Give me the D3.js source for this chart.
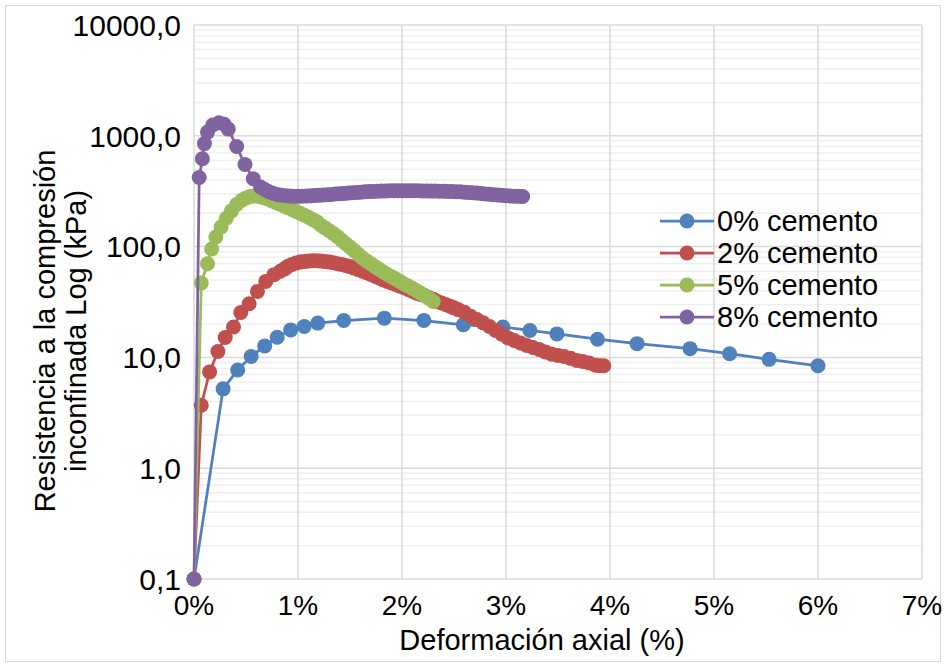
<!DOCTYPE html>
<html>
<head>
<meta charset="utf-8">
<script src="https://cdn.jsdelivr.net/npm/d3@7"></script>
<style>
  body { margin: 0; background: #fff; }
  text { font-family: "Liberation Sans", Arial, sans-serif; fill: #000; }
</style>
</head>
<body>
<div id="chart"></div>
<script>
const width = 946;
const height = 667;

// deformación axial (%) y resistencia (kPa) por serie
const strain0 = [0, 0.28, 0.42, 0.55, 0.68, 0.80, 0.93, 1.06, 1.19, 1.44, 1.83, 2.21, 2.59, 2.97, 3.23, 3.49, 3.88, 4.26, 4.77, 5.15, 5.53, 6.0];
const stress0 = [0.1, 5.2, 7.7, 10.2, 12.7, 15.2, 17.7, 19.0, 20.4, 21.5, 22.6, 21.5, 19.7, 18.8, 17.5, 16.3, 14.6, 13.3, 12.0, 10.8, 9.6, 8.4];

const strain2 = [0, 0.07, 0.15, 0.23, 0.30, 0.38, 0.45, 0.53, 0.61, 0.69, 0.77, 0.83, 0.87, 0.90, 0.94, 0.98, 1.02, 1.06, 1.10, 1.14, 1.18, 1.22, 1.26, 1.30, 1.34, 1.38, 1.42, 1.46, 1.50, 1.54, 1.58, 1.62, 1.66, 1.70, 1.74, 1.78, 1.82, 1.86, 1.90, 1.94, 1.98, 2.02, 2.06, 2.10, 2.14, 2.18, 2.22, 2.26, 2.30, 2.34, 2.38, 2.42, 2.46, 2.50, 2.54, 2.60, 2.66, 2.72, 2.78, 2.84, 2.90, 2.96, 3.02, 3.08, 3.14, 3.20, 3.26, 3.32, 3.38, 3.44, 3.50, 3.56, 3.62, 3.68, 3.74, 3.80, 3.86, 3.90, 3.94];
const stress2 = [0.1, 3.7, 7.4, 11.3, 15.1, 18.8, 25.4, 30.5, 39.4, 48.5, 55.8, 60, 63, 66, 69, 71, 72.5, 73.5, 74, 74.5, 74.5, 74, 73.5, 72.5, 71.5, 70, 69, 67.5, 66, 64, 62, 60, 58, 56, 54, 52, 50, 48.5, 47, 45.5, 44, 42.5, 41, 39.5, 38, 37, 36, 34.5, 33.5, 32, 31, 30, 29, 28, 27, 25.5, 23.5, 22, 20.5, 19, 17.5, 16.2, 15, 14.2, 13.5, 12.8, 12.3, 11.8, 11.2, 10.7, 10.4, 10.2, 9.8, 9.4, 9.2, 8.9, 8.5, 8.4, 8.4];

const strain5 = [0, 0.07, 0.13, 0.17, 0.21, 0.26, 0.31, 0.36, 0.41, 0.46, 0.50, 0.54, 0.58, 0.62, 0.66, 0.70, 0.74, 0.78, 0.82, 0.86, 0.90, 0.94, 0.98, 1.02, 1.06, 1.10, 1.14, 1.18, 1.22, 1.26, 1.30, 1.34, 1.38, 1.42, 1.46, 1.50, 1.54, 1.58, 1.62, 1.66, 1.70, 1.74, 1.78, 1.82, 1.86, 1.90, 1.94, 1.98, 2.02, 2.06, 2.10, 2.14, 2.18, 2.22, 2.26, 2.30];
const stress5 = [0.1, 47, 70, 95, 122, 150, 180, 210, 240, 262, 275, 283, 286, 284, 278, 270, 261, 252, 243, 234, 225, 216, 208, 200, 192, 184, 176, 168, 156, 147, 139, 131, 123, 114, 106, 99, 92, 85, 79, 74, 70, 66, 62.5, 59, 56, 53.5, 51, 48.5, 46, 44, 42, 40, 38, 36, 34, 32];

const strain8 = [0, 0.05, 0.08, 0.10, 0.13, 0.18, 0.24, 0.29, 0.33, 0.41, 0.49, 0.57, 0.64, 0.68, 0.72, 0.76, 0.80, 0.84, 0.88, 0.92, 0.96, 1.00, 1.04, 1.08, 1.12, 1.16, 1.20, 1.24, 1.28, 1.32, 1.36, 1.40, 1.44, 1.48, 1.52, 1.56, 1.60, 1.64, 1.68, 1.72, 1.76, 1.80, 1.84, 1.88, 1.92, 1.96, 2.00, 2.04, 2.08, 2.12, 2.16, 2.20, 2.24, 2.28, 2.32, 2.36, 2.40, 2.44, 2.48, 2.52, 2.56, 2.60, 2.64, 2.68, 2.72, 2.76, 2.80, 2.84, 2.88, 2.92, 2.96, 3.00, 3.04, 3.08, 3.12, 3.16];
const stress8 = [0.1, 420, 620, 850, 1080, 1250, 1310, 1270, 1150, 800, 550, 410, 345, 328, 313, 303, 296, 291, 288, 286, 285, 285, 285, 286, 287, 289, 290, 292, 294, 296, 298, 300, 302, 304, 306, 308, 310, 312, 314, 315, 316, 317, 318, 319, 319, 320, 320, 320, 320, 319, 319, 318, 318, 317, 317, 316, 316, 315, 314, 313, 312, 310, 308, 306, 304, 302, 299, 297, 294, 292, 290, 288, 286, 285, 284, 283];

const seriesNames = ["0% cemento", "2% cemento", "5% cemento", "8% cemento"];
const seriesColors = ["#4f81bd", "#c0504d", "#9bbb59", "#8064a2"];
const xTicks = [0, 1, 2, 3, 4, 5, 6, 7];
const yTicks = [0.1, 1, 10, 100, 1000, 10000];

const series = [
  { name: seriesNames[0], color: seriesColors[0], x: strain0, y: stress0 },
  { name: seriesNames[1], color: seriesColors[1], x: strain2, y: stress2 },
  { name: seriesNames[2], color: seriesColors[2], x: strain5, y: stress5 },
  { name: seriesNames[3], color: seriesColors[3], x: strain8, y: stress8 }
];

const plot = { left: 194, right: 922, top: 25, bottom: 579 };
const fontSize = "29px";
const markerR = 7.5;

const svg = d3.select("#chart")
  .append("svg")
  .attr("width", width)
  .attr("height", height);

svg.append("rect")
  .attr("x", 5.5).attr("y", 5.5)
  .attr("width", width - 11).attr("height", height - 11)
  .attr("fill", "#fff")
  .attr("stroke", "#d9d9d9");

const x = d3.scaleLinear().domain([0, 7]).range([plot.left, plot.right]);
const y = d3.scaleLog().domain([0.1, 10000]).range([plot.bottom, plot.top]);

const comma = d3.formatLocale({ decimal: ",", thousands: "", grouping: [3], currency: ["", ""] }).format(".1f");

// minor gridlines (2..9 of each decade)
const minor = [];
yTicks.slice(0, -1).forEach(t => {
  for (let k = 2; k <= 9; k++) minor.push(t * k);
});
svg.append("g").selectAll("line")
  .data(minor)
  .join("line")
  .attr("x1", plot.left).attr("x2", plot.right)
  .attr("y1", d => y(d)).attr("y2", d => y(d))
  .attr("stroke", "#efefef")
  .attr("stroke-width", 1.5);

// major gridlines
svg.append("g").selectAll("line")
  .data(yTicks)
  .join("line")
  .attr("x1", plot.left).attr("x2", plot.right)
  .attr("y1", d => y(d)).attr("y2", d => y(d))
  .attr("stroke", "#d9d9d9")
  .attr("stroke-width", 1.5);

svg.append("g").selectAll("line")
  .data(xTicks)
  .join("line")
  .attr("x1", d => x(d)).attr("x2", d => x(d))
  .attr("y1", plot.top).attr("y2", plot.bottom)
  .attr("stroke", "#d9d9d9")
  .attr("stroke-width", 1.5);

// tick labels
svg.append("g").selectAll("text")
  .data(xTicks)
  .join("text")
  .attr("x", d => x(d))
  .attr("y", 615)
  .attr("text-anchor", "middle")
  .style("font-size", "28px")
  .text(d => d + "%");

svg.append("g").selectAll("text")
  .data(yTicks)
  .join("text")
  .attr("x", 181)
  .attr("y", d => y(d))
  .attr("dy", "0.36em")
  .attr("text-anchor", "end")
  .style("font-size", "30px")
  .text(d => comma(d));

// axis titles
svg.append("text")
  .attr("x", 542)
  .attr("y", 650)
  .attr("text-anchor", "middle")
  .style("font-size", fontSize)
  .text("Deformación axial (%)");

const yTitle = svg.append("text")
  .attr("transform", "translate(0,331) rotate(-90)")
  .attr("text-anchor", "middle")
  .style("font-size", fontSize);
yTitle.append("tspan").attr("x", 0).attr("y", 55).text("Resistencia a la compresión");
yTitle.append("tspan").attr("x", 0).attr("y", 86).text("inconfinada Log (kPa)");

// series
const line = d3.line().x(d => x(d[0])).y(d => y(d[1]));

series.forEach(s => {
  const pts = s.x.map((v, i) => [v, s.y[i]]);
  const g = svg.append("g");
  g.append("path")
    .datum(pts)
    .attr("d", line)
    .attr("fill", "none")
    .attr("stroke", s.color)
    .attr("stroke-width", 2.75);
  g.selectAll("circle")
    .data(pts)
    .join("circle")
    .attr("cx", d => x(d[0]))
    .attr("cy", d => y(d[1]))
    .attr("r", markerR)
    .attr("fill", s.color);
});

// legend
const legend = svg.append("g");
series.forEach((s, i) => {
  const ly = 221 + i * 32;
  legend.append("line")
    .attr("x1", 660).attr("x2", 714)
    .attr("y1", ly).attr("y2", ly)
    .attr("stroke", s.color)
    .attr("stroke-width", 2.75);
  legend.append("circle")
    .attr("cx", 687).attr("cy", ly)
    .attr("r", markerR)
    .attr("fill", s.color);
  legend.append("text")
    .attr("x", 717)
    .attr("y", ly)
    .attr("dy", "0.36em")
    .style("font-size", fontSize)
    .text(s.name);
});
</script>
</body>
</html>
